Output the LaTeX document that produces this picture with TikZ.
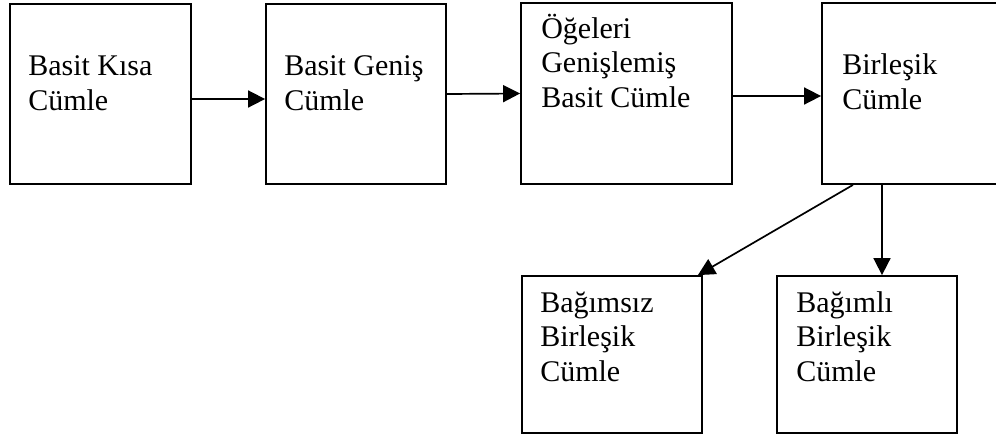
\documentclass[tikz,border=0pt]{standalone}
\usepackage{fontspec}
\setmainfont{Liberation Serif}
\usetikzlibrary{arrows.meta}
\usetikzlibrary{positioning}

\begin{document}
\begin{tikzpicture}[x=1pt, y=-1pt,
	box/.style={draw=black, line width=1.8pt, rectangle, inner sep=0pt},
	txt/.style={align=left, inner sep=0pt, font=\fontsize{30}{34.5}\selectfont},
	conn/.style={line width=1.7pt, -{Triangle[length=17pt, width=17pt]}}]

	% page frame, right box runs past it
	\useasboundingbox (0,0) rectangle (996,437);

	% top row of boxes
	\node[box, minimum width=181pt, minimum height=180pt] (b1) at (100.5,94) {};
	\node[box, minimum width=180pt, minimum height=180pt] (b2) at (356,94) {};
	\node[box, minimum width=211pt, minimum height=181pt] (b3) at (626.5,93.5) {};
	\node[box, minimum width=188pt, minimum height=181pt] (b4) at (916,93.5) {};

	% lower row
	\node[box, minimum width=180pt, minimum height=157pt] (b5) at (612,354.5) {};
	\node[box, minimum width=180pt, minimum height=157pt] (b6) at (867,354.5) {};

	% box texts, placed from the upper left corner to the last baseline
	\node[txt, anchor=base west] (t1) at ([shift={(19,107)}]b1.north west) {Basit Kısa\\Cümle};
	\node[txt, anchor=base west] (t2) at ([shift={(19,107)}]b2.north west) {Basit Geniş\\Cümle};
	\node[txt, anchor=base west] (t3) at ([shift={(21,105)}]b3.north west) {Öğeleri\\Genişlemiş\\Basit Cümle};
	\node[txt, anchor=base west] (t4) at ([shift={(21,107)}]b4.north west) {Birleşik\\Cümle};
	\node[txt, anchor=base west] (t5) at ([shift={(19,106)}]b5.north west) {Bağımsız\\Birleşik\\Cümle};
	\node[txt, anchor=base west] (t6) at ([shift={(20,106)}]b6.north west) {Bağımlı\\Birleşik\\Cümle};

	% arrows along the top row
	\draw[conn] ([yshift=-5pt]b1.east) -- ([yshift=-5pt]b2.west);
	\draw[conn] (b2.east) -- (b3.west);
	\draw[conn] ([yshift=-2.5pt]b3.east) -- ([yshift=-2.5pt]b4.west);

	% split into the two kinds
	\draw[conn] ([xshift=-63pt]b4.south) -- ([xshift=-5pt]b5.north east);
	\draw[conn] ([xshift=-34pt]b4.south) -- ([xshift=-34pt]b4.south |- b6.north);

\end{tikzpicture}
\end{document}
